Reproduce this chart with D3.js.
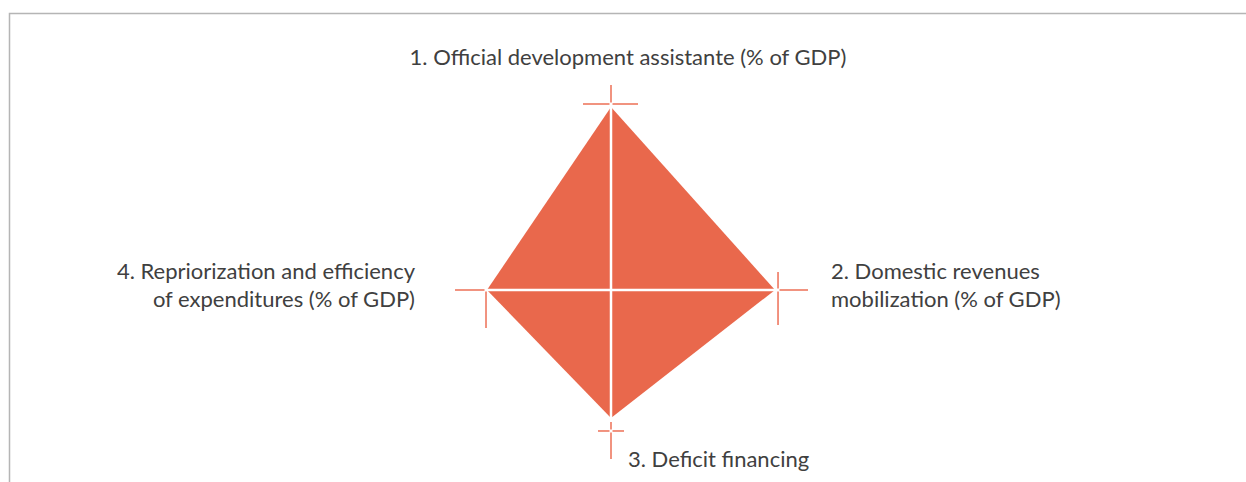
<!DOCTYPE html>
<html><head><meta charset="utf-8">
<script src="https://cdn.jsdelivr.net/npm/d3@7"></script>
<style>body{margin:0;background:#fff}svg{display:block}</style>
</head><body>
<svg id="c" width="1246" height="482"></svg>
<script>
// Data
const categories = [
  ["1. Official development assistante (% of GDP)"],
  ["2. Domestic revenues", "mobilization (% of GDP)"],
  ["3. Deficit financing"],
  ["4. Repriorization and efficiency", "of expenditures (% of GDP)"]
];
const values = [9.84, 8.82, 6.88, 6.67];   // polygon values per axis
const axisMax = [10.0, 8.98, 7.58, 6.72];   // end of each axis (tick cross)
const scaleMax = 10;

const svg = d3.select("#c");
const W = 1246, H = 482;
const cx = 611, cy = 290;
const rScale = d3.scaleLinear().domain([0, scaleMax]).range([0, 186]);
const angle = d3.scaleLinear().domain([0, categories.length]).range([0, 2 * Math.PI]);

const col = "#E9684C", tickCol = "#EE7860", textCol = "#404040";

// frame
svg.append("path").attr("d", `M9.5,${H} V13.5 H${W}`).attr("fill", "none")
  .attr("stroke", "#B5B5B5").attr("stroke-width", 1.5);

const g = svg.append("g").attr("transform", `translate(${cx},${cy})`);
const pt = (i, v) => {
  const a = angle(i);
  return [Math.sin(a) * rScale(v), -Math.cos(a) * rScale(v)];
};

// polygon
g.append("path")
  .datum(values)
  .attr("d", d3.line().x((d, i) => pt(i, d)[0]).y((d, i) => pt(i, d)[1]).curve(d3.curveLinearClosed))
  .attr("fill", col);

// white spokes
g.selectAll("line.spoke").data(axisMax).join("line")
  .attr("x1", 0).attr("y1", 0)
  .attr("x2", (d, i) => pt(i, d)[0]).attr("y2", (d, i) => pt(i, d)[1])
  .attr("stroke", "#fff").attr("stroke-width", 2.5);

// tick crosses: [outward arm, inward arm, perp arm (one side), perp arm (other side)]
const arms = [[19, 0, 28, 27], [30, 0, 18, 35], [28, 9, 13, 13], [31, 0, 38, 0]];
axisMax.forEach((m, i) => {
  const a = angle(i);
  const ux = Math.sin(a), uy = -Math.cos(a);   // outward unit
  const px = -uy, py = ux;                      // perpendicular
  const [x0, y0] = pt(i, m);
  const [o, inn, p1, p2] = arms[i];
  const gap = 1.5;
  const segs = [];
  if (o) segs.push([x0 + ux * gap, y0 + uy * gap, x0 + ux * o, y0 + uy * o]);
  if (inn) segs.push([x0 - ux * gap, y0 - uy * gap, x0 - ux * inn, y0 - uy * inn]);
  if (p1) segs.push([x0 - px * gap, y0 - py * gap, x0 - px * p1, y0 - py * p1]);
  if (p2) segs.push([x0 + px * gap, y0 + py * gap, x0 + px * p2, y0 + py * p2]);
  g.selectAll(null).data(segs).join("line")
    .attr("x1", d => d[0]).attr("y1", d => d[1]).attr("x2", d => d[2]).attr("y2", d => d[3])
    .attr("stroke", tickCol).attr("stroke-width", 1.6);
});

// labels
const font = "Lato, 'Open Sans', sans-serif";
const labelPos = [
  {x: 628, y: 65, anchor: "middle"},
  {x: 831, y: 279, anchor: "start"},
  {x: 628, y: 467, anchor: "start"},
  {x: 415, y: 279, anchor: "end"}
];
categories.forEach((lines, i) => {
  const t = svg.append("text")
    .attr("x", labelPos[i].x).attr("y", labelPos[i].y)
    .attr("text-anchor", labelPos[i].anchor)
    .attr("font-family", font).attr("font-size", 22).attr("fill", textCol);
  lines.forEach((s, j) => {
    t.append("tspan").attr("x", labelPos[i].x).attr("dy", j ? 28 : 0).text(s);
  });
});
</script>
</body></html>
